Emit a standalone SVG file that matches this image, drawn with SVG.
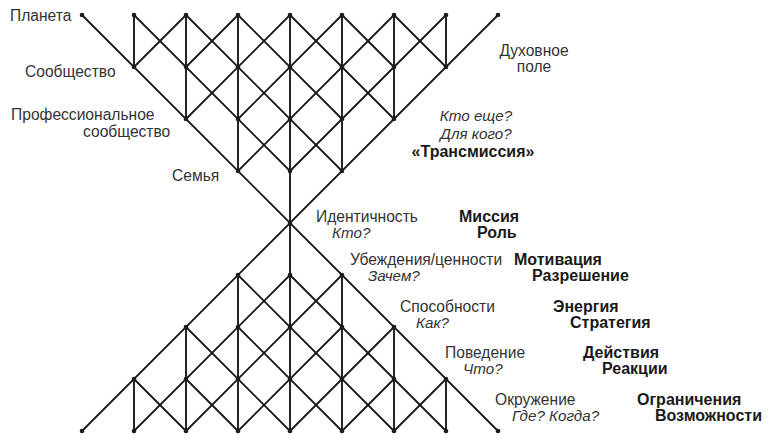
<svg xmlns="http://www.w3.org/2000/svg" width="772" height="444" viewBox="0 0 772 444">
<style>
  .ln { stroke: #1c1c1c; stroke-width: 1.9; fill: none; stroke-linecap: round; }
  .dot { fill: #1c1c1c; }
  text { font-family: "Liberation Sans", Arial, sans-serif; font-size: 15.6px; fill: #333; }
  .it { font-style: italic; font-size: 15.2px; }
  .b { font-weight: bold; fill: #1a1a1a; font-size: 16px; }
  .mid { text-anchor: middle; }
</style>
<rect width="772" height="444" fill="#fff"/>
<g id="connectors" class="ln">
  <!-- top lattice -->
  <path d="M82,15 L290,223 L498,15"/>
  <path d="M134,15 V67 M186,15 V119 M238,15 V171 M290,15 V431 M342,15 V171 M394,15 V119 M446,15 V67"/>
  <path d="M134,15 L290,171 M186,15 L342,171 M238,15 L342,119 M290,15 L394,119 M342,15 L394,67 M394,15 L446,67"/>
  <path d="M446,15 L290,171 M394,15 L238,171 M342,15 L238,119 M290,15 L186,119 M238,15 L186,67 M186,15 L134,67"/>
  <!-- bottom lattice -->
  <path d="M82,431 L290,223 L498,431"/>
  <path d="M134,431 V379 M186,431 V327 M238,431 V275 M342,431 V275 M394,431 V327 M446,431 V379"/>
  <path d="M134,431 L290,275 M186,431 L342,275 M238,431 L342,327 M290,431 L394,327 M342,431 L394,379 M394,431 L446,379"/>
  <path d="M446,431 L290,275 M394,431 L238,275 M342,431 L238,327 M290,431 L186,327 M238,431 L186,379 M186,431 L134,379"/>
</g>
<g id="dots" class="dot">
  <circle cx="82" cy="15" r="2.3"/><circle cx="134" cy="15" r="2.3"/><circle cx="186" cy="15" r="2.3"/><circle cx="238" cy="15" r="2.3"/><circle cx="290" cy="15" r="2.3"/><circle cx="342" cy="15" r="2.3"/><circle cx="394" cy="15" r="2.3"/><circle cx="446" cy="15" r="2.3"/><circle cx="498" cy="15" r="2.3"/>
  <circle cx="134" cy="67" r="2.3"/><circle cx="186" cy="67" r="2.3"/><circle cx="238" cy="67" r="2.3"/><circle cx="290" cy="67" r="2.3"/><circle cx="342" cy="67" r="2.3"/><circle cx="394" cy="67" r="2.3"/><circle cx="446" cy="67" r="2.3"/>
  <circle cx="186" cy="119" r="2.3"/><circle cx="238" cy="119" r="2.3"/><circle cx="290" cy="119" r="2.3"/><circle cx="342" cy="119" r="2.3"/><circle cx="394" cy="119" r="2.3"/>
  <circle cx="238" cy="171" r="2.3"/><circle cx="290" cy="171" r="2.3"/><circle cx="342" cy="171" r="2.3"/>
  <circle cx="290" cy="223" r="2.3"/>
  <circle cx="238" cy="275" r="2.3"/><circle cx="290" cy="275" r="2.3"/><circle cx="342" cy="275" r="2.3"/>
  <circle cx="186" cy="327" r="2.3"/><circle cx="238" cy="327" r="2.3"/><circle cx="290" cy="327" r="2.3"/><circle cx="342" cy="327" r="2.3"/><circle cx="394" cy="327" r="2.3"/>
  <circle cx="134" cy="379" r="2.3"/><circle cx="186" cy="379" r="2.3"/><circle cx="238" cy="379" r="2.3"/><circle cx="290" cy="379" r="2.3"/><circle cx="342" cy="379" r="2.3"/><circle cx="394" cy="379" r="2.3"/><circle cx="446" cy="379" r="2.3"/>
  <circle cx="82" cy="431" r="2.3"/><circle cx="134" cy="431" r="2.3"/><circle cx="186" cy="431" r="2.3"/><circle cx="238" cy="431" r="2.3"/><circle cx="290" cy="431" r="2.3"/><circle cx="342" cy="431" r="2.3"/><circle cx="394" cy="431" r="2.3"/><circle cx="446" cy="431" r="2.3"/><circle cx="498" cy="431" r="2.3"/>
</g>
<g id="planet"><text x="10" y="20.5">Планета</text></g>
<g id="community"><text x="25" y="77">Сообщество</text></g>
<g id="prof-community"><text x="11" y="120">Профессиональное</text><text x="83" y="137">сообщество</text></g>
<g id="family"><text x="172" y="181">Семья</text></g>
<g id="spirit"><text class="mid" x="534" y="56">Духовное</text><text class="mid" x="534" y="72">поле</text></g>
<g id="transmission"><text class="it mid" x="476" y="121">Кто еще?</text><text class="it mid" x="476" y="139">Для кого?</text><text class="b mid" x="473" y="157">«Трансмиссия»</text></g>
<g id="identity"><text x="316" y="222">Идентичность</text><text class="it" x="332" y="238">Кто?</text></g>
<g id="mission"><text class="b" x="459" y="222">Миссия</text><text class="b" x="477" y="238">Роль</text></g>
<g id="beliefs"><text x="350" y="265">Убеждения/ценности</text><text class="it" x="368" y="281">Зачем?</text></g>
<g id="motivation"><text class="b" x="514" y="265">Мотивация</text><text class="b" x="532" y="281">Разрешение</text></g>
<g id="capabilities"><text x="400" y="312">Способности</text><text class="it" x="416" y="328">Как?</text></g>
<g id="energy"><text class="b" x="553" y="312">Энергия</text><text class="b" x="570" y="328">Стратегия</text></g>
<g id="behavior"><text x="445" y="358">Поведение</text><text class="it" x="463" y="374">Что?</text></g>
<g id="actions"><text class="b" x="583" y="358">Действия</text><text class="b" x="602" y="374">Реакции</text></g>
<g id="environment"><text x="495" y="405">Окружение</text><text class="it" x="512" y="421">Где? Когда?</text></g>
<g id="limits"><text class="b" x="637" y="405">Ограничения</text><text class="b" x="655" y="421">Возможности</text></g>
</svg>
